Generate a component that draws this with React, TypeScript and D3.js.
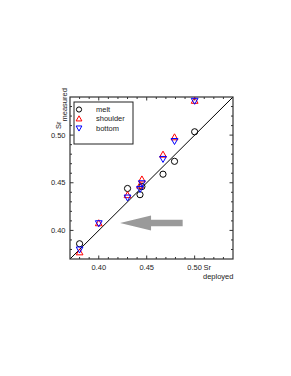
import React, { useEffect, useRef } from 'react';
import * as d3 from 'd3';

// Sr deployed (x) vs Sr measured (y)
const deployed = [0.38, 0.40, 0.43, 0.443, 0.445, 0.467, 0.479, 0.50];
const melt = [0.386, null, 0.444, 0.4375, 0.446, 0.459, 0.4725, 0.5035];
const shoulder = [0.377, 0.4075, 0.437, 0.447, 0.4535, 0.4795, 0.4977, 0.536];
const bottom = [0.380, 0.4075, 0.4345, 0.4435, 0.4495, 0.475, 0.4938, 0.536];

const xTicks = [0.40, 0.45, 0.50];
const yTicks = [0.40, 0.45, 0.50];
const legendLabels = ['melt', 'shoulder', 'bottom'];

// arrow annotation in data units: tail -> tip
const arrowTail = [0.4875, 0.4078];
const arrowTip = [0.4222, 0.4078];

const W = 291;
const H = 376;
const FONT = '"Liberation Sans", Arial, Helvetica, sans-serif';

const App: React.FC = () => {
  const svgRef = useRef<SVGSVGElement>(null);

  useEffect(() => {
    document.body.style.margin = '0';
    if (!svgRef.current) return;
    const svg = d3.select(svgRef.current);
    svg.selectAll('*').remove();

    const left = 70, right = 233, top = 97, bot = 259;
    const x = d3.scaleLinear().domain([0.37, 0.54]).range([left, right]);
    const y = d3.scaleLinear().domain([0.37, 0.54]).range([bot, top]);

    const g = svg.append('g');

    // arrow
    const ax0 = x(arrowTail[0]), ax1 = x(arrowTip[0]), ay = y(arrowTail[1]);
    const headLen = 31, headHalf = 7.5, shaftHalf = 3.3;
    g.append('path')
      .attr('d', `M${ax1},${ay} L${ax1 + headLen},${ay - headHalf} L${ax1 + headLen},${ay - shaftHalf} L${ax0},${ay - shaftHalf} L${ax0},${ay + shaftHalf} L${ax1 + headLen},${ay + shaftHalf} L${ax1 + headLen},${ay + headHalf} Z`)
      .attr('fill', '#9a9a9a');

    // 1:1 line
    g.append('line')
      .attr('x1', x(0.37)).attr('y1', y(0.37))
      .attr('x2', x(0.54)).attr('y2', y(0.54))
      .attr('stroke', '#000').attr('stroke-width', 1);

    // frame
    g.append('rect')
      .attr('x', left).attr('y', top)
      .attr('width', right - left).attr('height', bot - top)
      .attr('fill', 'none').attr('stroke', '#333').attr('stroke-width', 1.2);

    // ticks inward on all sides
    const minor = d3.range(38, 54).map((d) => d / 100);
    minor.forEach((v) => {
      const major = Math.abs((v * 100) % 5) < 1e-6;
      const len = major ? 3.5 : 2;
      const px = x(v), py = y(v);
      g.append('line').attr('x1', px).attr('x2', px).attr('y1', bot).attr('y2', bot - len).attr('stroke', '#333');
      g.append('line').attr('x1', px).attr('x2', px).attr('y1', top).attr('y2', top + len).attr('stroke', '#333');
      g.append('line').attr('y1', py).attr('y2', py).attr('x1', left).attr('x2', left + len).attr('stroke', '#333');
      g.append('line').attr('y1', py).attr('y2', py).attr('x1', right).attr('x2', right - len).attr('stroke', '#333');
    });

    // text layer (opacity forces grayscale antialiasing)
    const tg = svg.append('g').style('opacity', 0.99);
    const fmt = d3.format('.2f');
    xTicks.forEach((v) => {
      tg.append('text').attr('x', x(v)).attr('y', 269.5)
        .attr('text-anchor', 'middle').attr('font-size', 7.5).attr('font-family', FONT)
        .attr('fill', '#222').text(fmt(v));
    });
    yTicks.forEach((v) => {
      tg.append('text').attr('x', 65.5).attr('y', y(v) + 2.7)
        .attr('text-anchor', 'end').attr('font-size', 7.5).attr('font-family', FONT)
        .attr('fill', '#222').text(fmt(v));
    });

    // axis titles
    tg.append('text').attr('x', 203.5).attr('y', 269.5)
      .attr('font-size', 7.5).attr('font-family', FONT).attr('fill', '#222').text('Sr');
    tg.append('text').attr('x', 203).attr('y', 278.5)
      .attr('font-size', 7.5).attr('font-family', FONT).attr('fill', '#222').text('deployed');
    tg.append('text').attr('transform', 'translate(60.5,129) rotate(-90)')
      .attr('font-size', 7.5).attr('font-family', FONT).attr('fill', '#222').text('Sr');
    tg.append('text').attr('transform', 'translate(67,121.5) rotate(-90)')
      .attr('font-size', 7.5).attr('font-family', FONT).attr('fill', '#222').text('measured');

    // symbols
    const circle = (sel: any, cx: number, cy: number, r = 3.1) =>
      sel.append('circle').attr('cx', cx).attr('cy', cy).attr('r', r)
        .attr('fill', 'none').attr('stroke', '#000').attr('stroke-width', 1);
    const triUp = (sel: any, cx: number, cy: number, s = 1) =>
      sel.append('path').attr('d', `M${cx},${cy - 3.5 * s} L${cx + 3.4 * s},${cy + 2.5 * s} L${cx - 3.4 * s},${cy + 2.5 * s} Z`)
        .attr('fill', 'none').attr('stroke', '#ff0000').attr('stroke-width', 1);
    const triDown = (sel: any, cx: number, cy: number, s = 1) =>
      sel.append('path').attr('d', `M${cx},${cy + 3.5 * s} L${cx + 3.4 * s},${cy - 2.5 * s} L${cx - 3.4 * s},${cy - 2.5 * s} Z`)
        .attr('fill', 'none').attr('stroke', '#0000ff').attr('stroke-width', 1);

    deployed.forEach((d, i) => {
      if (melt[i] != null) circle(g, x(d), y(melt[i] as number));
    });
    deployed.forEach((d, i) => triUp(g, x(d), y(shoulder[i])));
    deployed.forEach((d, i) => triDown(g, x(d), y(bottom[i])));

    // legend
    const lg = svg.append('g');
    lg.append('rect').attr('x', 74).attr('y', 102).attr('width', 59).attr('height', 42)
      .attr('fill', '#fff').attr('stroke', '#222').attr('stroke-width', 1);
    legendLabels.forEach((lab, i) => {
      const ry = 109.5 + i * 9.3;
      if (i === 0) circle(lg, 79, ry, 2.6);
      if (i === 1) triUp(lg, 79, ry, 0.85);
      if (i === 2) triDown(lg, 79, ry, 0.85);
      lg.append('text').attr('x', 96).attr('y', ry + 2.6).style('opacity', 0.99)
        .attr('font-size', 7.5).attr('font-family', FONT).attr('fill', '#222').text(lab);
    });
  }, []);

  return <svg ref={svgRef} width={W} height={H} style={{ display: 'block', background: '#fff' }} />;
};

export default App;
